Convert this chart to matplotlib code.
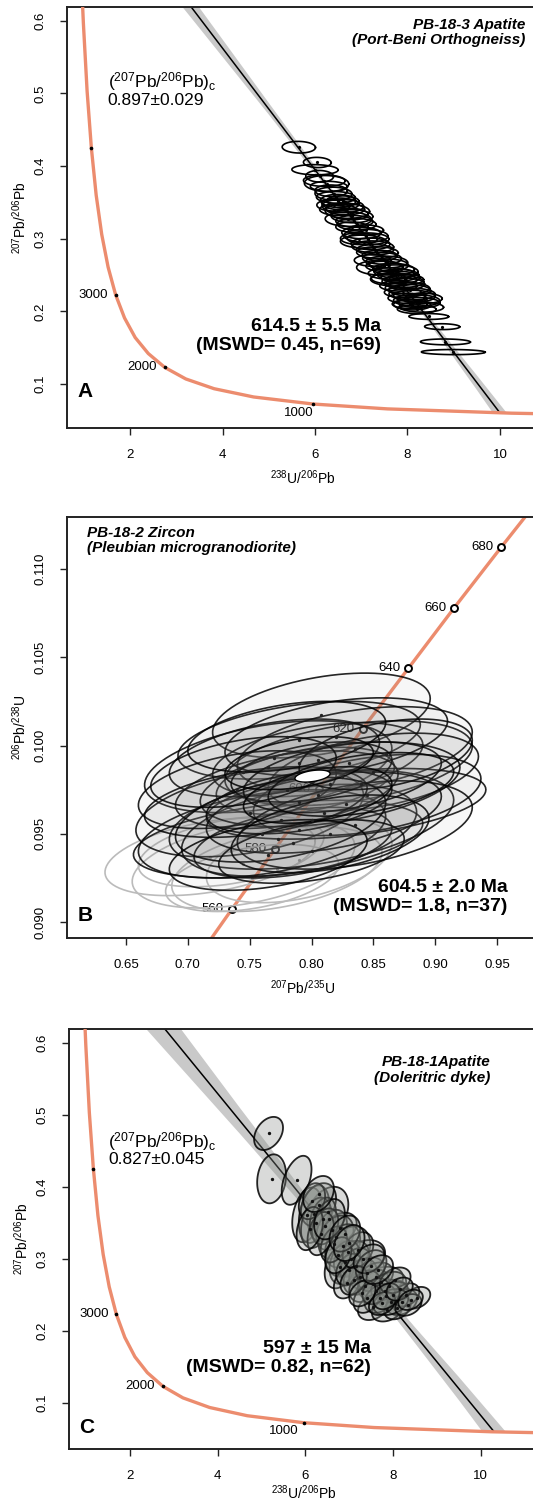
import numpy as np
import matplotlib
matplotlib.use('Agg')
from matplotlib import pyplot as plt

plt.rcParams['font.family'] = ['Liberation Sans', 'DejaVu Sans']
plt.rcParams['mathtext.fontset'] = 'custom'
plt.rcParams['mathtext.rm'] = 'Liberation Sans'
plt.rcParams['mathtext.it'] = 'Liberation Sans:italic'
plt.rcParams['mathtext.bf'] = 'Liberation Sans:bold'
plt.rcParams['mathtext.default'] = 'rm'

tw_conc_x = [0.960, 0.990, 1.071, 1.163, 1.267, 1.387, 1.525, 1.687, 1.880, 2.111,
             2.394, 2.749, 3.206, 3.817, 4.673, 5.960, 7.568, 10.25, 12.40]
tw_conc_y = [0.640, 0.597, 0.503, 0.425, 0.360, 0.306, 0.261, 0.223, 0.191, 0.164,
             0.142, 0.123, 0.107, 0.0936, 0.0822, 0.0725, 0.0658, 0.0599, 0.0573]
tw_tick_x = [5.960, 2.749, 1.687, 1.163]
tw_tick_y = [0.0725, 0.123, 0.2227, 0.4253]
tw_tick_lab = ['1000', '2000', '3000', '']

# ---- Wetherill concordia (panel B)
wc_x = [0.7020, 0.7359, 0.7705, 0.8057, 0.8415, 0.8784, 0.9155, 0.9536, 0.9925]
wc_y = [0.08738, 0.09076, 0.09414, 0.09754, 0.10096, 0.10438, 0.10781, 0.11125, 0.11470]
wc_mark_x = [0.7359, 0.7705, 0.8057, 0.8415, 0.8784, 0.9155, 0.9536]
wc_mark_y = [0.09076, 0.09414, 0.09754, 0.10096, 0.10438, 0.10781, 0.11125]
wc_mark_lab = ['560', '580', '600', '620', '640', '660', '680']

# ---- Panel A : PB-18-3 apatite
a_line_x = [0.0, 9.999]
a_line_y = [0.897, 0.0603]
a_band_x = [2.5, 3.5, 5.0, 6.5, 7.5, 8.5, 9.5, 10.15, 9.85, 9.5, 8.5, 7.5, 6.5, 5.0, 3.5, 2.5]
a_band_y = [0.707, 0.618, 0.487, 0.357, 0.272, 0.191, 0.112, 0.060,
            0.060, 0.092, 0.181, 0.267, 0.349, 0.471, 0.590, 0.669]
a_cx = [5.65, 6.05, 6.00, 6.10, 6.25, 6.30, 6.35, 6.40, 6.45, 6.50,
        6.55, 6.60, 6.65, 6.70, 6.75, 6.80, 6.72, 6.85, 6.90, 6.80,
        7.00, 7.10, 7.15, 7.05, 7.20, 7.25, 7.30, 7.35, 7.40, 7.45,
        7.55, 7.60, 7.40, 7.70, 7.75, 7.65, 7.80, 7.85, 7.70, 7.90,
        7.95, 7.80, 8.00, 8.05, 7.90, 8.10, 8.15, 8.00, 8.20, 8.25,
        8.10, 8.30, 8.20, 8.46, 8.75, 8.82, 8.99, 6.20, 6.60, 7.10,
        7.50, 7.95, 8.35, 6.95, 7.60, 6.50, 8.05, 7.25, 6.40]
a_cy = [0.426, 0.405, 0.395, 0.386, 0.376, 0.372, 0.366, 0.362, 0.357, 0.352,
        0.348, 0.345, 0.341, 0.338, 0.334, 0.331, 0.327, 0.324, 0.320, 0.316,
        0.308, 0.304, 0.300, 0.296, 0.293, 0.289, 0.285, 0.281, 0.277, 0.273,
        0.268, 0.264, 0.260, 0.258, 0.255, 0.252, 0.250, 0.247, 0.244, 0.241,
        0.238, 0.235, 0.232, 0.229, 0.226, 0.224, 0.221, 0.218, 0.215, 0.212,
        0.209, 0.206, 0.203, 0.193, 0.179, 0.158, 0.144, 0.380, 0.352, 0.312,
        0.262, 0.244, 0.218, 0.300, 0.245, 0.340, 0.210, 0.270, 0.346]
a_sx = [0.36, 0.30, 0.50, 0.30, 0.48, 0.40, 0.35, 0.40, 0.42, 0.38,
        0.40, 0.45, 0.42, 0.48, 0.40, 0.45, 0.50, 0.40, 0.42, 0.35,
        0.42, 0.48, 0.45, 0.50, 0.42, 0.45, 0.40, 0.45, 0.38, 0.42,
        0.45, 0.42, 0.50, 0.45, 0.48, 0.50, 0.45, 0.42, 0.50, 0.45,
        0.42, 0.40, 0.48, 0.45, 0.40, 0.50, 0.45, 0.42, 0.50, 0.45,
        0.40, 0.48, 0.42, 0.43, 0.38, 0.54, 0.69, 0.45, 0.35, 0.38,
        0.40, 0.40, 0.40, 0.40, 0.38, 0.40, 0.38, 0.40, 0.36]
a_sy = [0.008, 0.007, 0.007, 0.008, 0.011, 0.007, 0.008, 0.009, 0.008, 0.009,
        0.008, 0.009, 0.008, 0.010, 0.008, 0.009, 0.010, 0.008, 0.008, 0.007,
        0.008, 0.009, 0.008, 0.009, 0.008, 0.008, 0.007, 0.008, 0.007, 0.008,
        0.008, 0.008, 0.010, 0.008, 0.009, 0.008, 0.008, 0.008, 0.009, 0.008,
        0.008, 0.007, 0.008, 0.008, 0.007, 0.008, 0.008, 0.007, 0.008, 0.007,
        0.007, 0.007, 0.006, 0.004, 0.004, 0.004, 0.0035, 0.008, 0.007, 0.007,
        0.007, 0.007, 0.007, 0.008, 0.007, 0.008, 0.006, 0.008, 0.008]

# ---- Panel B : PB-18-2 zircon
b_cx = [0.808, 0.790, 0.765, 0.805, 0.830, 0.795, 0.835, 0.850, 0.773, 0.750,
        0.800, 0.790, 0.785, 0.760, 0.828, 0.845, 0.780, 0.815, 0.770, 0.820,
        0.740, 0.810, 0.835, 0.755, 0.800, 0.790, 0.825, 0.775, 0.860, 0.800,
        0.745, 0.815, 0.780, 0.840, 0.765, 0.805, 0.790]
b_cy = [0.1017, 0.1003, 0.0988, 0.0992, 0.0990, 0.0980, 0.0998, 0.0985, 0.0947, 0.0962,
        0.0958, 0.0952, 0.0945, 0.0950, 0.0967, 0.0972, 0.0975, 0.0978, 0.0993, 0.1005,
        0.0975, 0.0962, 0.0955, 0.0968, 0.0985, 0.0968, 0.0982, 0.0958, 0.0995, 0.0940,
        0.0985, 0.0950, 0.1005, 0.0978, 0.0938, 0.0972, 0.0990]
b_sx = [0.088, 0.098, 0.100, 0.085, 0.100, 0.072, 0.095, 0.085, 0.117, 0.092,
        0.115, 0.095, 0.080, 0.100, 0.113, 0.092, 0.090, 0.105, 0.085, 0.090,
        0.080, 0.095, 0.095, 0.090, 0.065, 0.075, 0.080, 0.085, 0.070, 0.075,
        0.075, 0.080, 0.080, 0.075, 0.080, 0.060, 0.060]
b_sy = [0.0024, 0.0022, 0.0026, 0.0021, 0.0024, 0.0019, 0.0024, 0.0022, 0.0022, 0.0025,
        0.0028, 0.0026, 0.0020, 0.0025, 0.0020, 0.0023, 0.0022, 0.0024, 0.0022, 0.0022,
        0.0022, 0.0023, 0.0025, 0.0020, 0.0017, 0.0018, 0.0020, 0.0024, 0.0020, 0.0018,
        0.0020, 0.0022, 0.0020, 0.0018, 0.0020, 0.0016, 0.0015]
b_rho = 0.4
b_rej_x = [0.718, 0.745, 0.772, 0.752, 0.790, 0.735]
b_rej_y = [0.0937, 0.0933, 0.0930, 0.0925, 0.0935, 0.0940]
b_rej_sx = [0.085, 0.090, 0.085, 0.070, 0.075, 0.075]
b_rej_sy = [0.0022, 0.0025, 0.0024, 0.0019, 0.0024, 0.0020]
b_age_x, b_age_y, b_age_sx, b_age_sy = 0.8008, 0.09827, 0.0142, 0.00034

# ---- Panel C : PB-18-1 apatite
c_line_x = [0.0, 10.306]
c_line_y = [0.827, 0.0599]
c_band_x = [2.0, 3.0, 4.5, 6.0, 7.3, 8.5, 9.5, 10.57, 10.04, 9.5, 8.5, 7.3, 6.0, 4.5, 3.0, 2.0]
c_band_y = [0.712, 0.632, 0.510, 0.390, 0.291, 0.205, 0.136, 0.060,
            0.060, 0.104, 0.183, 0.277, 0.370, 0.474, 0.576, 0.644]
c_cx = [5.16, 5.23, 5.80, 6.51, 6.04, 6.20, 6.30, 6.25, 6.40, 6.15,
        6.79, 6.60, 6.70, 6.97, 6.85, 7.31, 7.05, 6.90, 7.15, 6.79,
        7.72, 7.81, 7.40, 7.25, 6.95, 7.55, 7.60, 7.35, 7.90, 8.00,
        8.55, 7.55, 7.87, 8.20, 8.10, 7.70, 8.30, 7.40, 7.95, 8.35,
        6.45, 6.65, 7.00, 7.20, 7.50, 6.35, 6.10, 7.60, 8.05, 7.75,
        6.55, 6.75, 7.10, 7.45, 7.85, 8.15, 7.30, 6.90, 7.65, 8.40,
        6.30, 7.00]
c_cy = [0.474, 0.411, 0.409, 0.365, 0.361, 0.362, 0.375, 0.350, 0.355, 0.380,
        0.343, 0.340, 0.330, 0.310, 0.318, 0.300, 0.300, 0.295, 0.290, 0.289,
        0.268, 0.255, 0.280, 0.275, 0.267, 0.265, 0.275, 0.262, 0.262, 0.250,
        0.246, 0.233, 0.229, 0.240, 0.232, 0.245, 0.250, 0.245, 0.240, 0.236,
        0.345, 0.320, 0.285, 0.312, 0.290, 0.335, 0.342, 0.255, 0.270, 0.238,
        0.355, 0.305, 0.270, 0.300, 0.248, 0.258, 0.252, 0.335, 0.285, 0.243,
        0.390, 0.322]
c_sx = [0.33, 0.33, 0.34, 0.47, 0.34, 0.35, 0.40, 0.35, 0.30, 0.30,
        0.38, 0.35, 0.40, 0.51, 0.40, 0.51, 0.40, 0.35, 0.35, 0.35,
        0.51, 0.51, 0.40, 0.38, 0.30, 0.35, 0.40, 0.35, 0.40, 0.35,
        0.30, 0.35, 0.35, 0.35, 0.30, 0.35, 0.30, 0.30, 0.40, 0.30,
        0.30, 0.30, 0.30, 0.35, 0.35, 0.30, 0.30, 0.30, 0.35, 0.30,
        0.35, 0.30, 0.30, 0.35, 0.30, 0.30, 0.30, 0.35, 0.35, 0.28,
        0.35, 0.35]
c_sy = [0.023, 0.034, 0.034, 0.035, 0.038, 0.040, 0.030, 0.035, 0.030, 0.025,
        0.021, 0.028, 0.030, 0.035, 0.030, 0.026, 0.025, 0.030, 0.025, 0.030,
        0.021, 0.016, 0.022, 0.025, 0.022, 0.020, 0.020, 0.022, 0.020, 0.018,
        0.015, 0.018, 0.016, 0.018, 0.016, 0.020, 0.016, 0.020, 0.018, 0.015,
        0.025, 0.025, 0.022, 0.025, 0.022, 0.030, 0.030, 0.018, 0.018, 0.016,
        0.028, 0.025, 0.020, 0.020, 0.018, 0.016, 0.018, 0.025, 0.020, 0.014,
        0.025, 0.025]
c_rho = [0.35, 0.15, 0.45, 0.3, 0.3, 0.3, 0.3, 0.3, 0.3, 0.3,
         0.3, 0.3, 0.3, 0.3, 0.3, 0.3, 0.3, 0.3, 0.3, 0.3,
         0.3, 0.3, 0.3, 0.3, 0.3, 0.3, 0.3, 0.3, 0.3, 0.3,
         0.3, 0.3, 0.3, 0.3, 0.3, 0.3, 0.3, 0.3, 0.3, 0.3,
         0.3, 0.3, 0.3, 0.3, 0.3, 0.3, 0.3, 0.3, 0.3, 0.3,
         0.3, 0.3, 0.3, 0.3, 0.3, 0.3, 0.3, 0.3, 0.3, 0.3,
         0.3, 0.3]

ORANGE = '#EC8C6E'
BAND = '#C9C9C9'


def ell(cx, cy, sx, sy, rho, n=90):
    t = np.linspace(0, 2 * np.pi, n)
    return cx + sx * np.cos(t), cy + sy * (rho * np.cos(t) + np.sqrt(1 - rho ** 2) * np.sin(t))


def frame(ax, xlim, ylim, xticks, xlabs, yticks, ylabs, xlabel, ylabel, xlab_off=40):
    ax.set_xlim(xlim)
    ax.set_ylim(ylim)
    ax.set_xticks(xticks)
    ax.set_xticklabels(xlabs, fontsize=9.5)
    ax.set_yticks(yticks)
    ax.set_yticklabels(ylabs, fontsize=9.5, rotation=90, va='center')
    ax.tick_params(length=5, width=1.0, pad=10, color='#222222')
    for s in ax.spines.values():
        s.set_linewidth(1.4)
        s.set_color('#222222')
    ax.set_xlabel(xlabel, fontsize=10)
    ax.set_ylabel(ylabel, fontsize=10)
    w = ax.get_position().width * 533
    h = ax.get_position().height * 1502
    ax.xaxis.set_label_coords(0.5 - 0.0, -xlab_off / h)
    ax.yaxis.set_label_coords(-38 / w, 0.5)


fig = plt.figure(figsize=(5.33, 15.02), dpi=100)

tw_xlab = r'$^{238}$U/$^{206}$Pb'
tw_ylab = r'$^{207}$Pb/$^{206}$Pb'

# ================= panel A
axA = fig.add_axes([67 / 533, 1 - 428 / 1502, 1.01 - 67 / 533, 421 / 1502])
frame(axA, (0.636, 10.83), (0.0395, 0.619), [2, 4, 6, 8, 10], ['2', '4', '6', '8', '10'],
      [0.1, 0.2, 0.3, 0.4, 0.5, 0.6], ['0.1', '0.2', '0.3', '0.4', '0.5', '0.6'], tw_xlab, tw_ylab)
axA.fill(a_band_x, a_band_y, color=BAND, lw=0, zorder=1)
axA.plot(a_line_x, a_line_y, color='black', lw=1.1, zorder=2)
for i in range(len(a_cx)):
    ex, ey = ell(a_cx[i], a_cy[i], a_sx[i], a_sy[i], -0.05)
    axA.plot(ex, ey, color='black', lw=1.2, zorder=3)
axA.plot(a_cx, a_cy, 'o', color='black', ms=1.3, zorder=4)
axA.plot(tw_conc_x, tw_conc_y, color=ORANGE, lw=2.4, zorder=5, solid_capstyle='butt')
axA.plot(tw_tick_x, tw_tick_y, 'o', color='black', ms=1.6, zorder=6)
axA.annotate(tw_tick_lab[0], (tw_tick_x[0], tw_tick_y[0]), xytext=(0, -6.5), textcoords='offset points',
             ha='right', va='center', fontsize=9.5)
for i in [1, 2]:
    axA.annotate(tw_tick_lab[i], (tw_tick_x[i], tw_tick_y[i]), xytext=(-5.5, 0), textcoords='offset points',
                 ha='right', va='center', fontsize=9.5)
axA.text(10.55, 0.584, 'PB-18-3 Apatite\n(Port-Beni Orthogneiss)', ha='right', va='center',
         fontsize=11, fontweight='bold', style='italic', linespacing=1.15, multialignment='right')
axA.text(1.52, 0.516, r'($^{207}$Pb/$^{206}$Pb)$_c$', ha='left', va='center', fontsize=12.5)
axA.text(1.52, 0.490, '0.897\u00b10.029', ha='left', va='center', fontsize=12.5)
axA.text(7.42, 0.1665, '614.5 \u00b1 5.5 Ma\n(MSWD= 0.45, n=69)', ha='right', va='center',
         fontsize=14, fontweight='bold', linespacing=1.15, multialignment='right')
axA.text(0.87, 0.0895, 'A', ha='left', va='center', fontsize=15, fontweight='bold')

# ================= panel B
axB = fig.add_axes([67 / 533, 1 - 938 / 1502, 1.01 - 67 / 533, 421 / 1502])
frame(axB, (0.6023, 0.9834), (0.0891, 0.11294), [0.65, 0.70, 0.75, 0.80, 0.85, 0.90, 0.95],
      ['0.65', '0.70', '0.75', '0.80', '0.85', '0.90', '0.95'],
      [0.090, 0.095, 0.100, 0.105, 0.110], ['0.090', '0.095', '0.100', '0.105', '0.110'],
      r'$^{207}$Pb/$^{235}$U', r'$^{206}$Pb/$^{238}$U')
axB.plot(wc_x, wc_y, color=ORANGE, lw=2.4, zorder=1)
axB.plot(wc_mark_x, wc_mark_y, 'o', mfc='white', mec='black', mew=1.4, ms=5, zorder=2)
for i in range(len(wc_mark_x)):
    axB.annotate(wc_mark_lab[i], (wc_mark_x[i], wc_mark_y[i]), xytext=(-6, 0), textcoords='offset points',
                 ha='right', va='center', fontsize=9.5, zorder=2)
for i in range(len(b_rej_x)):
    ex, ey = ell(b_rej_x[i], b_rej_y[i], b_rej_sx[i], b_rej_sy[i], b_rho)
    axB.plot(ex, ey, color='#BBBBBB', lw=1.2, zorder=3)
axB.plot(b_rej_x, b_rej_y, 'o', color='#999999', ms=1.3, zorder=3)
for i in range(len(b_cx)):
    ex, ey = ell(b_cx[i], b_cy[i], b_sx[i], b_sy[i], b_rho)
    axB.fill(ex, ey, facecolor=(0.5, 0.5, 0.5, 0.06), edgecolor=(0, 0, 0, 0.85), lw=1.2, zorder=4)
axB.plot(b_cx, b_cy, 'o', color='#222222', ms=1.4, zorder=5)
ex, ey = ell(b_age_x, b_age_y, b_age_sx, b_age_sy, b_rho)
axB.fill(ex, ey, facecolor='white', edgecolor='black', lw=1.0, zorder=6)
axB.text(0.6185, 0.1116, 'PB-18-2 Zircon\n(Pleubian microgranodiorite)', ha='left', va='center',
         fontsize=11, fontweight='bold', style='italic', linespacing=1.15)
axB.text(0.9585, 0.0914, '604.5 \u00b1 2.0 Ma\n(MSWD= 1.8, n=37)', ha='right', va='center',
         fontsize=14, fontweight='bold', linespacing=1.15, multialignment='right')
axB.text(0.611, 0.0904, 'B', ha='left', va='center', fontsize=15, fontweight='bold')

# ================= panel C
axC = fig.add_axes([69 / 533, 1 - 1449 / 1502, 1.01 - 69 / 533, 420 / 1502])
frame(axC, (0.607, 11.315), (0.036, 0.619), [2, 4, 6, 8, 10], ['2', '4', '6', '8', '10'],
      [0.1, 0.2, 0.3, 0.4, 0.5, 0.6], ['0.1', '0.2', '0.3', '0.4', '0.5', '0.6'], tw_xlab, tw_ylab,
      xlab_off=34)
axC.fill(c_band_x, c_band_y, color=BAND, lw=0, zorder=1)
axC.plot(c_line_x, c_line_y, color='black', lw=1.1, zorder=2)
axC.plot(tw_conc_x, tw_conc_y, color=ORANGE, lw=2.4, zorder=3, solid_capstyle='butt')
axC.plot(tw_tick_x, tw_tick_y, 'o', color='black', ms=1.6, zorder=4)
axC.annotate(tw_tick_lab[0], (tw_tick_x[0], tw_tick_y[0]), xytext=(-3.5, -6), textcoords='offset points',
             ha='right', va='center', fontsize=9.5)
for i in [1, 2]:
    axC.annotate(tw_tick_lab[i], (tw_tick_x[i], tw_tick_y[i]), xytext=(-5.5, 0), textcoords='offset points',
                 ha='right', va='center', fontsize=9.5)
for i in range(len(c_cx)):
    ex, ey = ell(c_cx[i], c_cy[i], c_sx[i], c_sy[i], c_rho[i])
    axC.fill(ex, ey, facecolor=(0.55, 0.57, 0.55, 0.33), edgecolor=(0, 0, 0, 0.85), lw=1.3, zorder=5)
axC.plot(c_cx, c_cy, 'o', color='#111111', ms=1.4, zorder=6)
axC.text(10.22, 0.5625, 'PB-18-1Apatite\n(Doleritric dyke)', ha='right', va='center',
         fontsize=11, fontweight='bold', style='italic', linespacing=1.15, multialignment='right')
axC.text(1.50, 0.4625, r'($^{207}$Pb/$^{206}$Pb)$_c$', ha='left', va='center', fontsize=12.5)
axC.text(1.50, 0.4375, '0.827\u00b10.045', ha='left', va='center', fontsize=12.5)
axC.text(7.50, 0.1625, '597 \u00b1 15 Ma\n(MSWD= 0.82, n=62)', ha='right', va='center',
         fontsize=14, fontweight='bold', linespacing=1.15, multialignment='right')
axC.text(0.835, 0.0653, 'C', ha='left', va='center', fontsize=15, fontweight='bold')

fig.savefig('out.png', dpi=100)
